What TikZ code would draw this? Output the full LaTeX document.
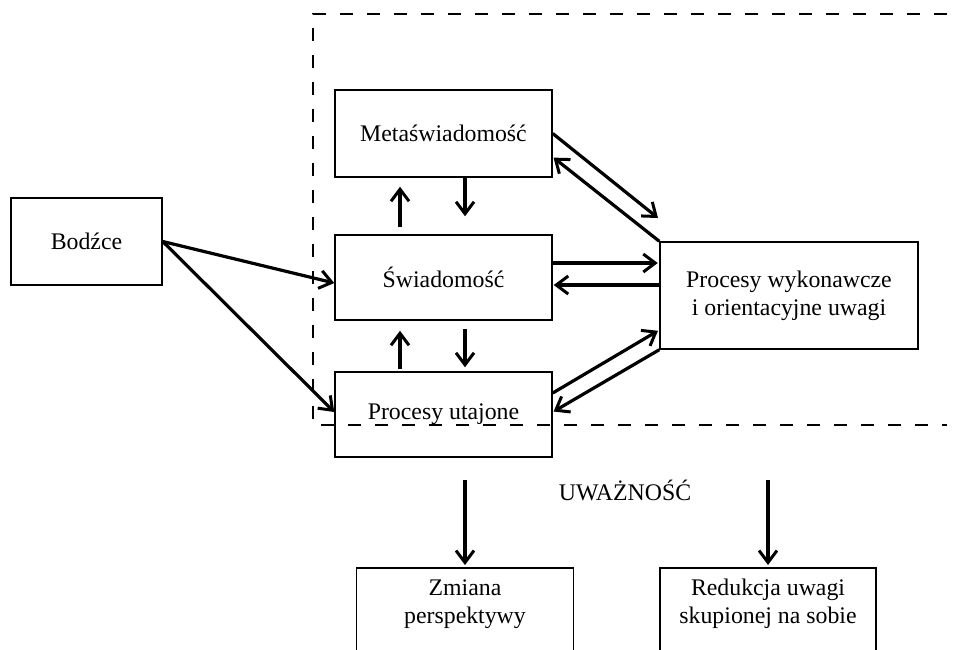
\documentclass[tikz,border=0pt]{standalone}
\usepackage{fontspec}
\setmainfont{Liberation Serif}
\usetikzlibrary{arrows.meta}
\tikzset{
  box/.style={draw, line width=1.5pt, rectangle, inner sep=0pt, align=center,
    font=\fontsize{23.8}{28}\selectfont},
  lbl/.style={inner sep=0pt, align=center, font=\fontsize{23.8}{28}\selectfont},
  arr/.style={line width=3.2pt, -{Straight Barb[length=12pt,width=18pt,line width=3pt]}},
  region/.style={line width=1.6pt, dash pattern=on 13pt off 14pt},
}
\begin{document}
\begin{tikzpicture}[x=1pt,y=-1pt]
\useasboundingbox (0,0) rectangle (957,649);
\clip (0,0) rectangle (957,649);
% dashed region
\draw[region] (947,14) -- (313,14) -- (313,425) -- (947,425);
% nodes
\node[box, minimum width=151pt, minimum height=87pt] (bodzce) at (86.5,241.5) {Bodźce};
\node[box, minimum width=217pt, minimum height=87pt] (meta) at (443.5,133.5) {Metaświadomość};
\node[box, minimum width=217pt, minimum height=85pt] (swiad) at (443.5,277.5) {Świadomość};
\node[box, minimum width=217pt, minimum height=85pt] (utaj) at (443.5,414.5) {Procesy utajone};
\node[box, minimum width=258pt, minimum height=107pt] (exec) at (789,295.5) {Procesy wykonawcze\\i orientacyjne uwagi};
\node[box, minimum width=217pt, minimum height=100pt, anchor=north] (zmiana) at (465,567) {};
\node[lbl] (zmianat) at (465,604) {Zmiana\\perspektywy};
\node[box, minimum width=216pt, minimum height=100pt, anchor=north] (redukcja) at (768,567) {};
\node[lbl] (redukcjat) at (768,604) {Redukcja uwagi\\skupionej na sobie};
\node[lbl] (uwaz) at (625,490) {UWAŻNOŚĆ};
\coordinate (m2e) at (658,218);
\coordinate (z0) at (465,480);
\coordinate (r0) at (768,480);
% Bodźce
\draw[arr] (bodzce.east) -- ([yshift=-5.5pt]swiad.west);
\draw[arr] (bodzce.east) -- ([yshift=2.5pt]utaj.west);
% vertical
\draw[arr, shorten >=18pt] ([xshift=21.5pt]meta.south) -- ([xshift=21.5pt]swiad.north);
\draw[arr, shorten <=7pt, shorten >=9pt] ([xshift=-43.5pt]swiad.north) -- ([xshift=-43.5pt]meta.south);
\draw[arr, shorten <=8pt, shorten >=4pt] ([xshift=21.5pt]swiad.south) -- ([xshift=21.5pt]utaj.north);
\draw[arr, shorten <=2pt, shorten >=10pt] ([xshift=-43.5pt]utaj.north) -- ([xshift=-43.5pt]swiad.south);
% to/from exec
\draw[arr] (meta.east) -- (m2e);
\draw[arr, shorten >=1pt] (exec.north west) -- ([yshift=-23.5pt]meta.east);
\draw[arr, shorten >=1.5pt] ([yshift=14.5pt]swiad.east) -- ([yshift=32.5pt]exec.west);
\draw[arr, shorten >=1pt] ([yshift=10.5pt]exec.west) -- ([yshift=-7.5pt]swiad.east);
\draw[arr, shorten >=1.5pt] ([yshift=21.5pt]utaj.east) -- ([yshift=-34.5pt]exec.west);
\draw[arr, shorten >=1pt] (exec.south west) -- ([yshift=2.5pt]utaj.east);
% bottom
\draw[arr, shorten >=2pt] (z0) -- (zmiana.north);
\draw[arr, shorten >=2pt] (r0) -- (redukcja.north);
\end{tikzpicture}
\end{document}
